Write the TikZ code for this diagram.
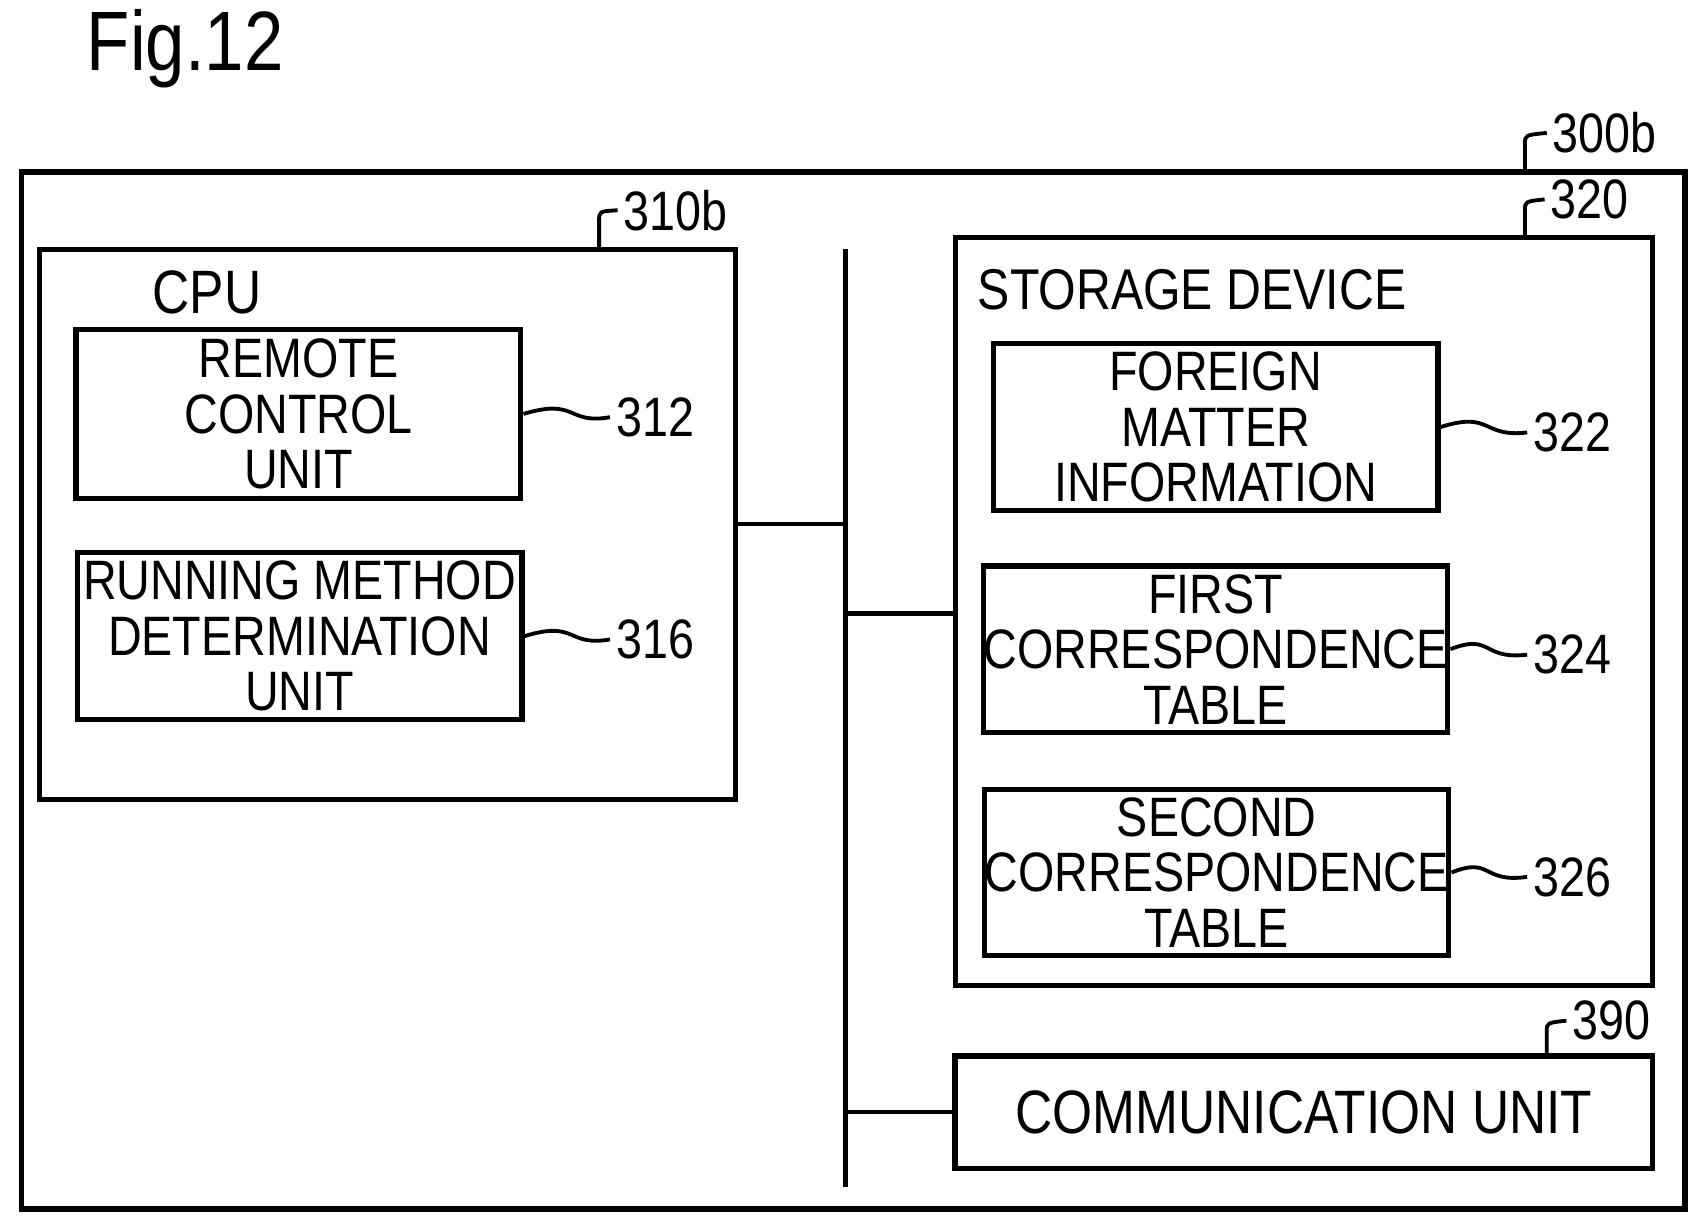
\documentclass[tikz,border=0pt]{standalone}
\usepackage{fontspec}
\setmainfont{Liberation Sans}
\newfontfamily\labfont[FakeStretch=0.84]{Liberation Sans}
\usetikzlibrary{positioning}
\begin{document}
\begin{tikzpicture}[x=0.01cm,y=-0.01cm,line width=1.2pt,
  box/.style={draw,line width=1.4pt},
  unit/.style={box,align=center,inner sep=0pt,minimum width=4.08cm,minimum height=1.53cm,font=\labfont\fontsize{14.5pt}{14.5pt}\selectfont},
  num/.style={font=\labfont\fontsize{14.5pt}{14pt}\selectfont,inner sep=1pt,anchor=west},
  lead/.style={line width=1pt}]
  \useasboundingbox (0,0) rectangle (1568,1130);
  \node[font=\labfont\fontsize{22pt}{22pt}\selectfont,anchor=west] (fig) at (66,45) {Fig.12};

  % outer device
  \draw[box] (20,158) rectangle (1547,1110);
  \node[num] (n300) at (1420,122) {300b};
  \draw[lead] (1400,158) -- (1400,132) .. controls (1400,124) .. (n300.west);

  % CPU
  \draw[box] (36,229) rectangle (675,734);
  \node[font=\labfont\fontsize{16pt}{16pt}\selectfont] (cpu) at (190,268) {CPU};
  \node[num] (n310) at (567,193) {310b};
  \draw[lead] (550,229) -- (550,203) .. controls (550,194) .. (n310.west);
  \node[unit,minimum height=1.55cm] (rc) at (274,380) {REMOTE\\CONTROL\\UNIT};
  \node[unit] (rm) at (275,584) {RUNNING METHOD\\DETERMINATION\\UNIT};
  \node[num] (n312) at (560,383) {312};
  \node[num] (n316) at (560,587) {316};
  \draw[lead] (rc.east) .. controls (530,365) and (520,390) .. (n312.west);
  \draw[lead] (rm.east) .. controls (530,569) and (520,594) .. (n316.west);

  % bus
  \coordinate (bt) at (776,229);
  \coordinate (bb) at (776,1090);
  \draw (bt) -- (bb);
  \draw (675,481) -- (776,481);
  \draw (776,563) -- (877,563);
  \draw (776,1021) -- (877,1021);

  % storage
  \draw[box] (877,218) rectangle (1517,905);
  \node[font=\labfont\fontsize{15pt}{15pt}\selectfont,anchor=west] (sd) at (884,266) {STORAGE DEVICE};
  \node[num] (n320) at (1418,183) {320};
  \draw[lead] (1400,218) -- (1400,193) .. controls (1400,185) .. (n320.west);
  \node[unit] (fm) at (1116,392) {FOREIGN\\MATTER\\INFORMATION};
  \node[unit] (ft) at (1116,596) {FIRST\\CORRESPONDENCE\\TABLE};
  \node[unit,minimum height=1.52cm] (st) at (1117,801) {SECOND\\CORRESPONDENCE\\TABLE};
  \node[num] (n322) at (1402,397) {322};
  \node[num] (n324) at (1402,601) {324};
  \node[num] (n326) at (1402,805) {326};
  \draw[lead] (fm.east) .. controls (1370,377) and (1360,402) .. (n322.west);
  \draw[lead] (ft.east) .. controls (1370,581) and (1360,606) .. (n324.west);
  \draw[lead] (st.east) .. controls (1370,786) and (1360,811) .. (n326.west);

  % communication
  \node[unit,minimum width=6.4cm,minimum height=1.03cm,font=\labfont\fontsize{16pt}{16pt}\selectfont] (cu) at (1197,1021) {COMMUNICATION UNIT};
  \node[num] (n390) at (1438,937) {390};
  \draw[lead] (1420,970) -- (1420,947) .. controls (1420,939) .. (n390.west);
\end{tikzpicture}
\end{document}
